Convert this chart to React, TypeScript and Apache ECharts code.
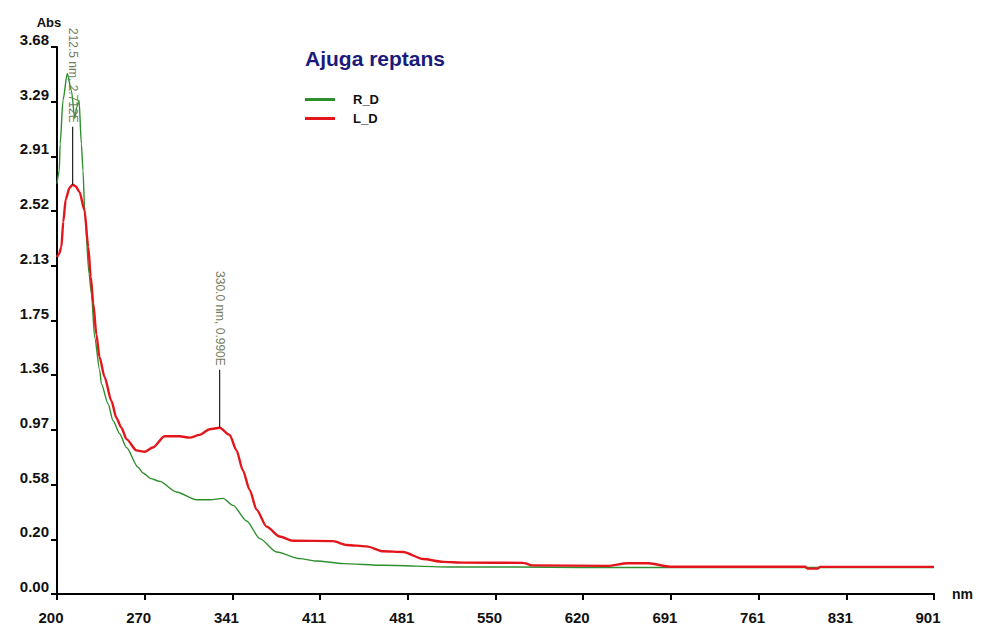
import React, { useEffect, useRef } from "react";
import * as echarts from "echarts";

// Tick labels as printed on the reference
const xTickLabels = ["200", "270", "341", "411", "481", "550", "620", "691", "761", "831", "901"];
const yTickLabels = ["0.00", "0.20", "0.58", "0.97", "1.36", "1.75", "2.13", "2.52", "2.91", "3.29", "3.68"];

// Axis extents (nm, Abs)
const X_MIN = 200;
const X_MAX = 901;
const Y_MIN = -0.1875; // bottom tick (printed as 0.00)
const Y_MAX = 3.6875;
const TICK_COUNT = 10;

const seriesNames = ["R_D", "L_D"];

// R_D (green) spectrum: [nm, Abs]
const rdData: [number, number][] = [
  [200, 2.72], [201.8, 2.81], [202.5, 3.0], [204.8, 3.31], [208.2, 3.5], [211.5, 3.38],
  [214.2, 3.18], [215.7, 3.26], [217.6, 3.31], [219.5, 3.0], [220.8, 2.81], [222.2, 2.51],
  [225.6, 2.08], [227.5, 1.94], [230.1, 1.63], [234.1, 1.4], [235.5, 1.3], [240.8, 1.16],
  [244.8, 1.04], [250, 0.95], [255.5, 0.85], [264.8, 0.71], [268.8, 0.67], [275, 0.63],
  [282.1, 0.61], [295.5, 0.535], [311.5, 0.48], [322.1, 0.48], [332.8, 0.49], [340.8, 0.44],
  [351.5, 0.33], [362.1, 0.205], [375.5, 0.11], [394.1, 0.063], [407.6, 0.046], [428.9, 0.028],
  [460.9, 0.016], [514.2, 0.004], [567.5, 0.004], [620, 0.0], [682, 0.0], [901, 0.0],
];

// L_D (red) spectrum: [nm, Abs]
const ldData: [number, number][] = [
  [200, 2.2], [201.5, 2.22], [203.5, 2.27], [205, 2.45], [207, 2.61], [210, 2.69],
  [212.5, 2.712], [215, 2.7], [218, 2.66], [222, 2.53], [225, 2.27], [227, 2.06],
  [229, 1.87], [231.5, 1.65], [234, 1.49], [238, 1.35], [243.5, 1.18], [247.5, 1.06],
  [251.5, 0.99], [255.5, 0.91], [263.5, 0.83], [270, 0.82], [276.5, 0.85], [286, 0.93],
  [298, 0.93], [306, 0.92], [314, 0.94], [322, 0.98], [330, 0.99], [338, 0.94],
  [343.5, 0.83], [348.5, 0.69], [354, 0.55], [359.5, 0.41], [367.5, 0.29], [378, 0.22],
  [388.5, 0.19], [420.7, 0.187], [431.4, 0.16], [447.4, 0.15], [460.7, 0.115], [476.7, 0.11],
  [492.7, 0.06], [508.7, 0.04], [524.6, 0.035], [572.6, 0.033], [580, 0.015], [640, 0.012],
  [656, 0.03], [673, 0.03], [690, 0.006], [798, 0.006], [800, -0.008], [808, -0.008],
  [810, 0.005], [901, 0.005],
];

// Peak annotations
const peakNm = [212.5, 330.0];
const peakAbs = [2.712, 0.99];
const peakText = ["212.5 nm, 2.712E", "330.0 nm, 0.990E"];

const FONT = 'Arial, "Liberation Sans", Helvetica, sans-serif';

export default function App() {
  const ref = useRef<HTMLDivElement>(null);

  useEffect(() => {
    if (!ref.current) return;
    const chart = echarts.init(ref.current, undefined, { renderer: "svg" });

    const xStep = (X_MAX - X_MIN) / TICK_COUNT;
    const yStep = (Y_MAX - Y_MIN) / TICK_COUNT;
    const toPt = (d: [number, number]) => [d[0] - X_MIN, d[1] - Y_MIN];

    chart.setOption({
      animation: false,
      backgroundColor: "#ffffff",
      title: {
        text: "Ajuga reptans",
        left: 305,
        top: 48,
        padding: 0,
        textStyle: { fontFamily: FONT, fontSize: 21, fontWeight: "bold", color: "#1b1b7c" },
      },
      legend: {
        data: seriesNames,
        orient: "vertical",
        left: 305,
        top: 90,
        padding: 0,
        icon: "rect",
        itemWidth: 30,
        itemHeight: 3,
        itemGap: 0,
        textStyle: {
          fontFamily: FONT,
          fontSize: 13,
          fontWeight: "bold",
          color: "#111",
          lineHeight: 15,
          padding: [0, 0, 4, 13],
        },
      },
      grid: { left: 57, right: 48, top: 47, bottom: 34, containLabel: false },
      xAxis: {
        type: "value",
        min: 0,
        max: X_MAX - X_MIN,
        interval: xStep,
        name: "nm",
        nameLocation: "end",
        nameGap: 18,
        nameTextStyle: {
          fontFamily: FONT,
          fontSize: 14,
          fontWeight: "bold",
          color: "#111",
          padding: [22, 0, 0, 0],
        },
        axisLine: { show: true, onZero: false, lineStyle: { color: "#000", width: 2 } },
        axisTick: { show: true, length: 6, lineStyle: { color: "#000", width: 2 } },
        splitLine: { show: false },
        axisLabel: {
          formatter: (v: number) => xTickLabels[Math.round(v / xStep)] ?? "",
          fontFamily: FONT,
          fontSize: 15,
          fontWeight: "bold",
          color: "#111",
          margin: 16,
          padding: [0, 12, 0, 0],
        },
      },
      yAxis: {
        type: "value",
        min: 0,
        max: Y_MAX - Y_MIN,
        interval: yStep,
        name: "Abs",
        nameLocation: "end",
        nameGap: 18,
        nameTextStyle: {
          fontFamily: FONT,
          fontSize: 13,
          fontWeight: "bold",
          color: "#111",
          align: "center",
          padding: [0, 16, 0, 0],
        },
        axisLine: { show: true, onZero: false, lineStyle: { color: "#000", width: 2 } },
        axisTick: { show: true, length: 6, lineStyle: { color: "#000", width: 2 } },
        splitLine: { show: false },
        axisLabel: {
          formatter: (v: number) => yTickLabels[Math.round(v / yStep)] ?? "",
          fontFamily: FONT,
          fontSize: 15,
          fontWeight: "bold",
          color: "#111",
          margin: 8,
          verticalAlign: "bottom",
        },
      },
      series: [
        {
          name: seriesNames[0],
          type: "line",
          data: rdData.map(toPt),
          showSymbol: false,
          smooth: 0.25,
          smoothMonotone: "x",
          lineStyle: { color: "#2e8f2e", width: 1.4 },
          itemStyle: { color: "#2e8f2e" },
          z: 2,
        },
        {
          name: seriesNames[1],
          type: "line",
          data: ldData.map(toPt),
          showSymbol: false,
          smooth: 0.25,
          smoothMonotone: "x",
          lineStyle: { color: "#e3161b", width: 2.4 },
          itemStyle: { color: "#e3161b" },
          z: 3,
        },
      ],
    });

    // Peak annotation lines and rotated labels, positioned through the chart's scales
    const graphics: any[] = [];
    peakNm.forEach((nm, i) => {
      const p = chart.convertToPixel({ gridIndex: 0 }, [nm - X_MIN, peakAbs[i] - Y_MIN]) as number[];
      const lineLen = 58;
      graphics.push({
        type: "line",
        shape: { x1: p[0], y1: p[1], x2: p[0], y2: p[1] - lineLen },
        style: { stroke: "#222", lineWidth: 1.2 },
        z: 10,
      });
      graphics.push({
        type: "text",
        x: p[0],
        y: p[1] - lineLen - 4,
        rotation: -Math.PI / 2,
        style: {
          text: peakText[i],
          fontFamily: FONT,
          fontSize: 12,
          fill: "#737d5e",
          align: "right",
          verticalAlign: "middle",
        },
        z: 10,
      });
    });
    chart.setOption({ graphic: graphics });

    return () => chart.dispose();
  }, []);

  return (
    <div
      ref={ref}
      style={{ position: "absolute", left: 0, top: 0, width: 982, height: 628, background: "#fff" }}
    />
  );
}
